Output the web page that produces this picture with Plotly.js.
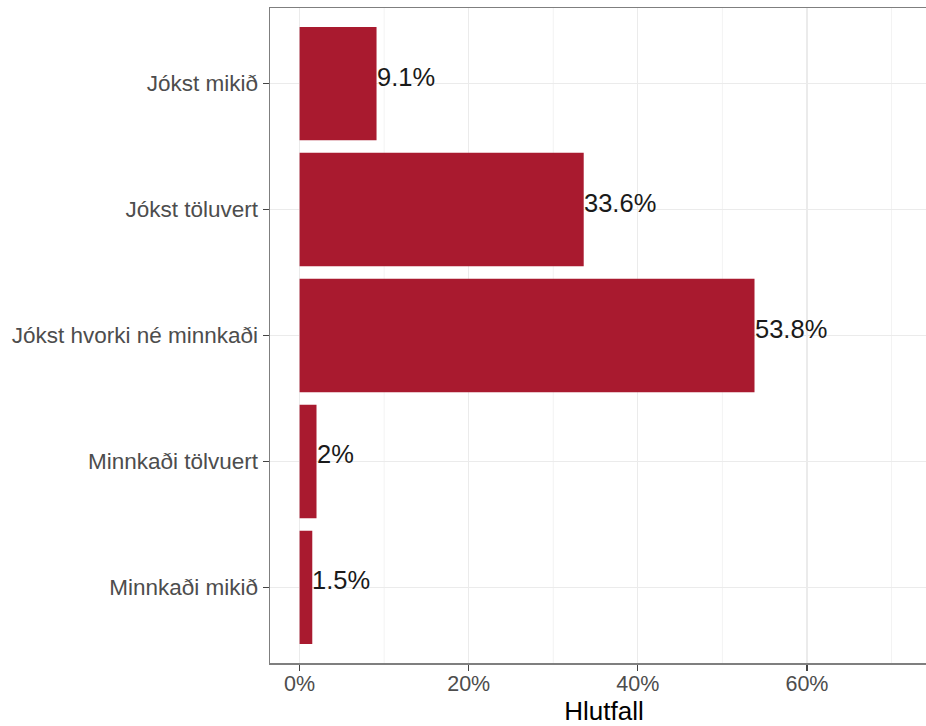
<!DOCTYPE html>
<html>
<head>
<meta charset="utf-8">
<script src="https://cdn.plot.ly/plotly-3.0.1.min.js"></script>
<style>
html, body { margin: 0; padding: 0; overflow: hidden; background: #fff; }
#chart { width: 938px; height: 726px; }
</style>
</head>
<body>
<div id="chart"></div>
<script>
// Data (top-to-bottom order as drawn)
var categories = ["Jókst mikið", "Jókst töluvert", "Jókst hvorki né minnkaði", "Minnkaði tölvuert", "Minnkaði mikið"];
var shares = [9.1, 33.6, 53.8, 2, 1.5];
var shareLabels = ["9.1%", "33.6%", "53.8%", "2%", "1.5%"];
var xTickVals = [0, 20, 40, 60];
var xTickText = ["0%", "20%", "40%", "60%"];
var xMinorVals = [10, 30, 50, 70];

var barColor = "#A91A2F";
var fontFam = "Liberation Sans, Arial, sans-serif";

var bar = {
  type: "bar",
  orientation: "h",
  x: shares,
  y: categories,
  width: 0.9,
  marker: { color: barColor, line: { width: 0 } },
  hoverinfo: "none"
};

var annotations = categories.map(function (c, i) {
  return {
    x: shares[i], y: c, xref: "x", yref: "y",
    text: shareLabels[i], showarrow: false,
    xanchor: "left", yanchor: "middle",
    xshift: -2, yshift: 7,
    font: { family: fontFam, size: 25.5, color: "#1a1a1a" }
  };
});

var shapes = xMinorVals.map(function (v) {
  return {
    type: "line", xref: "x", yref: "paper",
    x0: v, x1: v, y0: 0, y1: 1,
    line: { color: "#F3F3F3", width: 1 }, layer: "below"
  };
});

var layout = {
  width: 938, height: 726,
  margin: { l: 270, r: 0, t: 7.5, b: 63 },
  paper_bgcolor: "#fff", plot_bgcolor: "#fff",
  showlegend: false,
  font: { family: fontFam },
  xaxis: {
    range: [-3.5, 75.5],
    tickvals: xTickVals, ticktext: xTickText,
    ticks: "outside", ticklen: 6, tickwidth: 1.2, tickcolor: "#444",
    ticklabelstandoff: -5,
    tickfont: { family: fontFam, size: 21.5, color: "#4D4D4D" },
    showgrid: true, gridcolor: "#EBEBEB", gridwidth: 1.2,
    zeroline: false,
    showline: true, linecolor: "#7f7f7f", linewidth: 1.5, mirror: true,
    title: { text: "Hlutfall", font: { family: fontFam, size: 26, color: "#000" }, standoff: 4 }
  },
  yaxis: {
    type: "category",
    categoryorder: "array", categoryarray: categories,
    range: [4.6, -0.6],
    ticks: "outside", ticklen: 6, tickwidth: 1.2, tickcolor: "#444",
    tickfont: { family: fontFam, size: 22.5, color: "#4D4D4D" },
    showgrid: true, gridcolor: "#EBEBEB", gridwidth: 1.2,
    zeroline: false,
    showline: true, linecolor: "#7f7f7f", linewidth: 1.5, mirror: false
  },
  annotations: annotations,
  shapes: shapes,
  bargap: 0.1
};

Plotly.newPlot("chart", [bar], layout, { staticPlot: true, displayModeBar: false });
</script>
</body>
</html>
